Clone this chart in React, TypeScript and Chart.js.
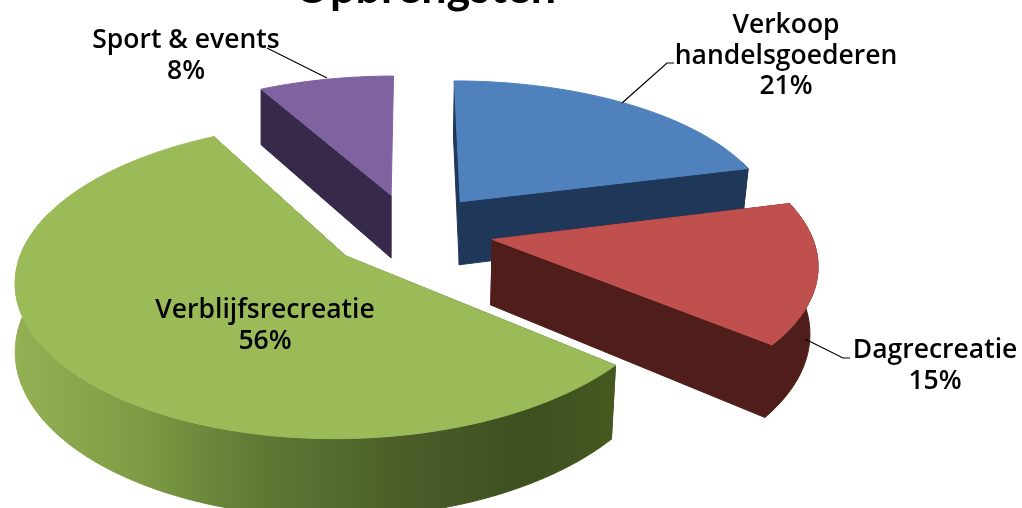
import React, { useEffect, useRef } from "react";
import { Chart, registerables } from "chart.js";

Chart.register(...registerables);

const categories = ["Verkoop handelsgoederen", "Dagrecreatie", "Verblijfsrecreatie", "Sport & events"];
const values = [21, 15, 56, 8];
const topColors = ["#4f81bd", "#c0504d", "#9bbb59", "#7f63a1"];
const sideColors = ["#1f3759", "#4f1e1b", "#5f7a35", "#36294a"];
const greenSideStops: [number, string][] = [[0, "#93b153"], [0.2, "#7f9c45"], [0.4, "#5f7a35"], [0.65, "#4a5c28"], [0.85, "#3e4f20"], [1, "#46591f"]];
const drawOrder = [3, 0, 1, 2];
const showEndWall = [true, true, true, false];
const titleText = "Opbrengsten";
const labelLines = [["Verkoop", "handelsgoederen"], ["Dagrecreatie"], ["Verblijfsrecreatie"], ["Sport & events"]];
const labelAnchors = [[786, 33], [935, 358], [265, 318], [186, 48]];
const leaders = [[[622, 103], [667, 63], [674, 63]], [[805, 339], [843, 358], [850, 358]], [], [[267, 48], [327, 78]]];

const CX = 411, CY = 231, RX = 318, PX = 0.141, RY = 147, PY = 0.15, H = 65, E = 0.26, CONVERGE = 0.02;

function proj(X: number, Y: number, z: number): [number, number] {
  const fx = 1 / (1 + PX * Y);
  const fy = 1 / (1 + PY * Y);
  const shrink = X > 0 ? 1 - CONVERGE * z : 1;
  return [CX + RX * X * fx * shrink, CY - RY * Y * fy + z * H * fy];
}

const pie3d = {
  id: "pie3d",
  beforeDatasetsDraw(chart: any) {
    const ctx: CanvasRenderingContext2D = chart.ctx;
    const arcs = chart.getDatasetMeta(0).data;
    ctx.save();
    for (const i of drawOrder) {
      const a0 = arcs[i].startAngle + Math.PI / 2;
      const a1 = arcs[i].endAngle + Math.PI / 2;
      const mid = (a0 + a1) / 2;
      const ex = E * Math.sin(mid), ey = E * Math.cos(mid);
      const n = Math.max(8, Math.round((a1 - a0) * 40));
      const rimAngles: number[] = [];
      for (let k = 0; k <= n; k++) rimAngles.push(a0 + ((a1 - a0) * k) / n);
      const rim = (z: number, list: number[]) =>
        list.map((t) => proj(ex + Math.sin(t), ey + Math.cos(t), z));
      const top = rim(0, rimAngles), bot = rim(1, rimAngles);
      const c0 = proj(ex, ey, 0), c1 = proj(ex, ey, 1);
      const poly = (pts: [number, number][], fill: any) => {
        if (pts.length < 3) return;
        ctx.beginPath();
        pts.forEach((p, k) => (k ? ctx.lineTo(p[0], p[1]) : ctx.moveTo(p[0], p[1])));
        ctx.closePath();
        ctx.fillStyle = fill;
        ctx.strokeStyle = fill;
        ctx.lineWidth = 1;
        ctx.fill();
        ctx.stroke();
      };
      let side: any = sideColors[i];
      if (i === 2) {
        const g = ctx.createLinearGradient(15, 0, 620, 0);
        greenSideStops.forEach(([o, c]) => g.addColorStop(o, c));
        side = g;
      }
      poly([c0, c1, bot[0], top[0]], side);
      if (showEndWall[i]) poly([c0, c1, bot[n], top[n]], side);
      // only the part of the outer wall that faces the viewer
      const facing = rimAngles.filter((t) => Math.cos(t) < 0.3);
      poly([...rim(0, facing), ...rim(1, facing).reverse()], side);
      poly([c0, ...top], arcs[i].options.backgroundColor);
    }
    ctx.restore();
    return false;
  },
  afterDraw(chart: any) {
    const ctx: CanvasRenderingContext2D = chart.ctx;
    ctx.save();
    ctx.strokeStyle = "#000";
    ctx.lineWidth = 1.2;
    for (const l of leaders) {
      if (!l.length) continue;
      ctx.beginPath();
      l.forEach((p, k) => (k ? ctx.lineTo(p[0], p[1]) : ctx.moveTo(p[0], p[1])));
      ctx.stroke();
    }
    ctx.fillStyle = "#000";
    ctx.textAlign = "center";
    ctx.textBaseline = "alphabetic";
    ctx.font = "600 26.5px 'Open Sans'";
    categories.forEach((_, i) => {
      const lines = [...labelLines[i], `${values[i]}%`];
      lines.forEach((t, k) => ctx.fillText(t, labelAnchors[i][0], labelAnchors[i][1] + k * 30.5));
    });
    ctx.font = "bold 45px Lato";
    ctx.fillText(titleText, 425, 3);
    ctx.restore();
  },
};

export default function App() {
  const ref = useRef<HTMLCanvasElement>(null);
  useEffect(() => {
    document.body.style.margin = "0";
    document.body.style.background = "#fff";
    const chart = new Chart(ref.current!, {
      type: "pie",
      data: {
        labels: categories,
        datasets: [{ data: values, backgroundColor: topColors, borderWidth: 0 }],
      },
      options: {
        responsive: false,
        animation: false,
        plugins: { legend: { display: false }, tooltip: { enabled: false } },
      },
      plugins: [pie3d],
    } as any);
    return () => chart.destroy();
  }, []);
  return <canvas ref={ref} width={1022} height={508} style={{ display: "block" }} />;
}
